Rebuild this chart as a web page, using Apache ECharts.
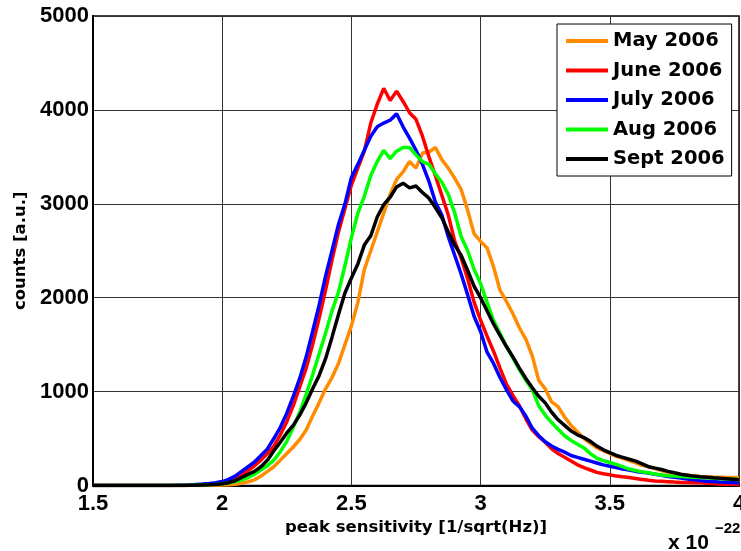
<!DOCTYPE html>
<html>
<head>
<meta charset="utf-8">
<script src="https://cdn.jsdelivr.net/npm/echarts@6/dist/echarts.min.js"></script>
<style>html,body{margin:0;padding:0;background:#fff}#chart{width:741px;height:551px}</style>
</head>
<body>
<div id="chart"></div>
<script>
var xs = [1.5,1.525,1.55,1.575,1.6,1.625,1.65,1.675,1.7,1.725,1.75,1.775,1.8,1.825,1.85,1.875,1.9,1.925,1.95,1.975,2.0,2.025,2.05,2.075,2.1,2.125,2.15,2.175,2.2,2.225,2.25,2.275,2.3,2.325,2.35,2.375,2.4,2.425,2.45,2.475,2.5,2.525,2.55,2.575,2.6,2.625,2.65,2.675,2.7,2.725,2.75,2.775,2.8,2.825,2.85,2.875,2.9,2.925,2.95,2.975,3.0,3.025,3.05,3.075,3.1,3.125,3.15,3.175,3.2,3.225,3.25,3.275,3.3,3.325,3.35,3.375,3.4,3.425,3.45,3.475,3.5,3.525,3.55,3.575,3.6,3.625,3.65,3.675,3.7,3.725,3.75,3.775,3.8,3.825,3.85,3.875,3.9,3.925,3.95,3.975,4.0];

var may2006 = [0,0,0,0,0,0,0,0,0,0,
  0,0,0,0,0,0,0,0,1,2,
  4,8,14,25,40,60,100,150,200,270,
  340,410,490,590,740,880,1030,1150,1300,1500,
  1700,1950,2300,2500,2700,2900,3100,3260,3340,3450,
  3380,3540,3550,3600,3470,3380,3270,3150,2930,2680,
  2600,2530,2330,2080,1960,1830,1680,1560,1380,1120,
  1030,890,840,730,640,570,500,450,400,370,
  340,310,290,265,240,215,200,180,160,140,
  125,115,108,100,96,93,90,88,86,84,
  82];

var june2006 = [0,0,0,0,0,0,0,0,0,0,
  0,0,0,0,1,3,5,8,12,18,
  28,45,70,110,160,210,270,340,420,540,
  680,850,1050,1250,1500,1780,2080,2400,2700,2950,
  3200,3380,3560,3860,4060,4230,4100,4200,4090,3970,
  3900,3720,3500,3300,3090,2880,2600,2420,2200,1950,
  1760,1590,1430,1250,1080,960,850,710,590,520,
  460,390,340,300,260,220,190,165,140,125,
  115,100,92,85,75,65,55,48,44,40,
  36,33,32,30,28,24,20,16,14,12,
  10];

var july2006 = [0,0,0,0,0,0,0,0,0,0,
  0,1,1,2,3,5,10,15,22,30,
  42,65,100,150,200,250,320,390,500,620,
  770,950,1140,1370,1640,1920,2230,2500,2780,3000,
  3280,3420,3570,3720,3820,3860,3890,3960,3820,3700,
  3570,3420,3240,3020,2880,2650,2450,2250,2030,1800,
  1640,1420,1300,1150,1020,900,840,740,610,530,
  465,420,385,355,320,300,280,260,240,220,
  205,190,175,165,150,140,132,120,110,95,
  88,80,70,60,52,45,42,38,35,32,
  30];

var aug2006 = [0,0,0,0,0,0,0,0,0,0,
  0,0,0,1,1,2,3,5,8,12,
  18,28,40,60,85,120,165,210,270,360,
  470,620,780,970,1180,1400,1620,1860,2060,2340,
  2640,2900,3080,3300,3450,3570,3480,3560,3600,3600,
  3520,3450,3420,3320,3230,3100,2900,2650,2500,2300,
  2150,1950,1760,1620,1480,1360,1234,1120,1020,850,
  750,670,600,530,480,440,400,340,290,265,
  245,225,200,175,160,145,135,122,112,105,
  100,96,92,88,85,82,78,74,70,66,
  62];

var sept2006 = [0,0,0,0,0,0,0,0,0,0,
  0,0,0,0,1,2,3,5,7,10,
  18,30,50,85,120,150,200,270,370,460,
  560,640,750,880,1030,1170,1350,1580,1820,2050,
  2210,2360,2560,2660,2860,2990,3070,3180,3220,3170,
  3190,3120,3060,2960,2850,2700,2560,2450,2290,2120,
  2000,1860,1720,1600,1480,1370,1250,1140,1040,950,
  880,780,700,640,580,540,510,470,420,380,
  350,320,300,280,260,230,200,185,170,150,
  135,120,110,100,92,88,82,78,72,66,
  60];

var seriesNames = ['May 2006','June 2006','July 2006','Aug 2006','Sept 2006'];
var seriesValues = [may2006, june2006, july2006, aug2006, sept2006];
var seriesColors = ['#FF8C00','#FF0000','#0000FF','#00FF00','#000000'];

var yTicks = {min: 0, max: 5000, interval: 1000};
var xTicks = {min: 1.5, max: 4, interval: 0.5};

function pairs(vals){ return xs.map(function(x,i){ return [x, vals[i]]; }); }

var chart = echarts.init(document.getElementById('chart'), null, {renderer:'canvas'});
var tickFont = {fontFamily:'Liberation Sans, Arial, sans-serif', fontWeight:'bold', fontSize:22, color:'#000'};
var labFont = {fontFamily:'DejaVu Sans, sans-serif', fontWeight:'bold', fontSize:16.5, color:'#000'};

chart.setOption({
  animation: false,
  backgroundColor: '#fff',
  grid: {left: 93, right: 2, top: 16, bottom: 65.5, show: true, borderColor: '#000', borderWidth: 1.5, containLabel: false, outerBoundsMode: 'none'},
  xAxis: {
    type: 'value', min: xTicks.min, max: xTicks.max, interval: xTicks.interval,
    axisLine: {show: true, onZero: false, lineStyle: {color: '#000', width: 2}},
    axisTick: {show: false},
    axisLabel: Object.assign({margin: 7, formatter: function(v){ return String(v); }}, tickFont),
    splitLine: {show: true, lineStyle: {color: '#333', width: 1}},
    name: 'peak sensitivity [1/sqrt(Hz)]', nameLocation: 'middle', nameGap: 26,
    nameTextStyle: labFont
  },
  yAxis: {
    type: 'value', min: yTicks.min, max: yTicks.max, interval: yTicks.interval,
    axisLine: {show: true, lineStyle: {color: '#000', width: 2}},
    axisTick: {show: false},
    axisLabel: Object.assign({margin: 4, formatter: function(v){ return String(v); }}, tickFont),
    splitLine: {show: true, lineStyle: {color: '#333', width: 1}},
    name: 'counts [a.u.]', nameLocation: 'middle', nameGap: 60,
    nameTextStyle: labFont
  },
  legend: {
    data: seriesNames, orient: 'vertical', left: 557, top: 24,
    padding: [7, 7, 7, 9], itemWidth: 42, itemHeight: 4, itemGap: 9.5, icon: 'rect',
    backgroundColor: '#fff', borderColor: '#000', borderWidth: 1, borderRadius: 0,
    textStyle: {fontFamily: 'DejaVu Sans, sans-serif', fontWeight: 'bold', fontSize: 19.5, lineHeight: 19, color: '#000'}
  },
  graphic: [
    {type: 'text', left: 668, top: 533, style: {text: 'x 10', fontFamily: 'Liberation Sans, Arial, sans-serif', fontWeight: 'bold', fontSize: 21, fill: '#000'}},
    {type: 'text', left: 715, top: 521, style: {text: '\u221222', fontFamily: 'Liberation Sans, Arial, sans-serif', fontWeight: 'bold', fontSize: 15, fill: '#000'}}
  ],
  series: seriesNames.map(function(n, k){
    return {
      name: n, type: 'line', data: pairs(seriesValues[k]), showSymbol: false, symbol: 'none',
      color: seriesColors[k], lineStyle: {color: seriesColors[k], width: 3.5}, z: 2 + k, clip: true
    };
  })
});
</script>
</body>
</html>
